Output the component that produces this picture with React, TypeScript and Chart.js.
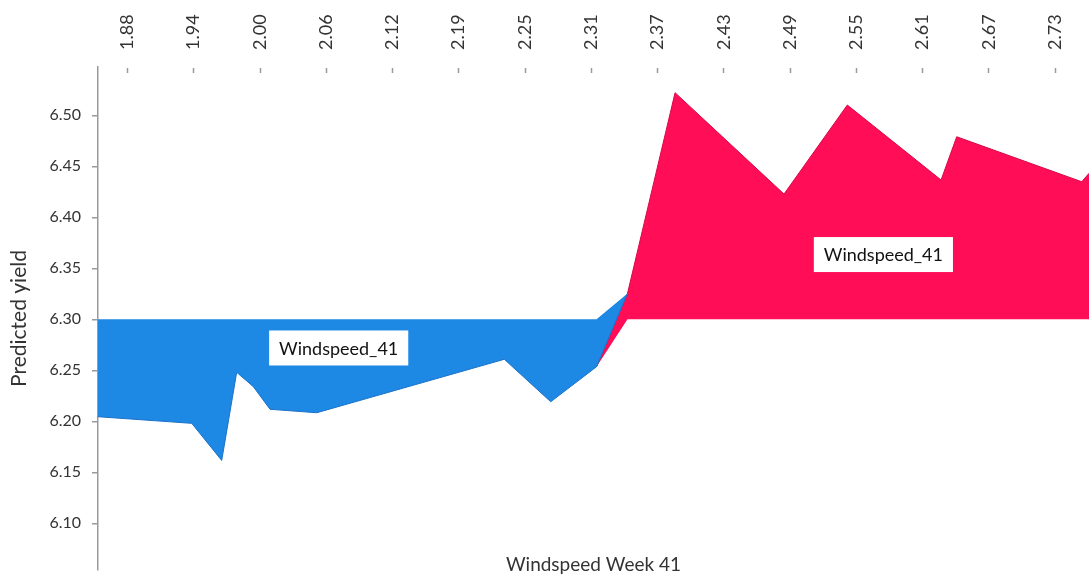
import { useEffect, useRef } from 'react';
import { Chart, registerables } from 'chart.js';

Chart.register(...registerables);

// ---- axis ticks ----
const xTickValues = [1.8805, 1.9415, 2.0025, 2.0635, 2.1245, 2.1855, 2.2465, 2.3075, 2.3685, 2.4295, 2.4905, 2.5515, 2.6125, 2.6735, 2.7345];
const xTickLabels = ['1.88', '1.94', '2.00', '2.06', '2.12', '2.19', '2.25', '2.31', '2.37', '2.43', '2.49', '2.55', '2.61', '2.67', '2.73'];
const yTickValues = [6.1, 6.15, 6.2, 6.25, 6.3, 6.35, 6.4, 6.45, 6.5];
const xRange = [1.8538, 2.7662];
const yRange = [6.0542, 6.5474];

// ---- effect below the base value (blue) ----
const belowWindspeed = [1.8538, 1.9401, 1.9677, 1.9815, 1.9968, 2.0122, 2.0552, 2.2279, 2.2706, 2.3128, 2.3413];
const belowPredicted = [6.2045, 6.198, 6.1616, 6.248, 6.234, 6.2118, 6.2084, 6.2608, 6.2192, 6.2535, 6.3253];
const belowBase = [6.3, 6.3, 6.3, 6.3, 6.3, 6.3, 6.3, 6.3, 6.3, 6.3, 6.3253];

// ---- effect above the base value (red) ----
const aboveWindspeed = [2.3128, 2.3413, 2.3851, 2.4854, 2.5437, 2.63, 2.6444, 2.7595, 2.7662];
const abovePredicted = [6.2535, 6.3253, 6.5222, 6.4228, 6.5101, 6.4366, 6.479, 6.4349, 6.4431];
const aboveBase = [6.2535, 6.3, 6.3, 6.3, 6.3, 6.3, 6.3, 6.3, 6.3];

// ---- feature labels ----
const labelText = ['Windspeed_41', 'Windspeed_41'];
const labelWindspeed = [2.0754, 2.5769];
const labelPredicted = [6.2719, 6.3635];

const BLUE = '#1E88E5';
const RED = '#FF0D57';
const AXIS_GRAY = '#9a9a9a';
const TEXT = '#333333';
const FONT = 'Lato';

const pts = (xs: number[], ys: number[]) => xs.map((x, i) => ({ x, y: ys[i] }));

const labelPlugin = {
  id: 'featureLabels',
  afterDatasetsDraw(chart: any) {
    const { ctx, scales } = chart;
    ctx.save();
    ctx.font = `18px ${FONT}`;
    ctx.textAlign = 'center';
    ctx.textBaseline = 'middle';
    labelText.forEach((t, i) => {
      const px = scales.x.getPixelForValue(labelWindspeed[i]);
      const py = scales.y.getPixelForValue(labelPredicted[i]);
      const w = ctx.measureText(t).width + 20;
      const h = 35;
      ctx.fillStyle = '#ffffff';
      ctx.fillRect(px - w / 2, py - h / 2, w, h);
      ctx.fillStyle = '#111111';
      ctx.fillText(t, px, py + 1);
    });
    ctx.restore();
  },
};

const innerTickPlugin = {
  id: 'innerTopTicks',
  afterDraw(chart: any) {
    const { ctx, chartArea, scales } = chart;
    const s = scales.x;
    ctx.save();
    ctx.strokeStyle = AXIS_GRAY;
    ctx.lineWidth = 1.5;
    s.ticks.forEach((t: any) => {
      const px = Math.round(s.getPixelForValue(t.value)) + 0.5;
      ctx.beginPath();
      ctx.moveTo(px, chartArea.top + 1);
      ctx.lineTo(px, chartArea.top + 6);
      ctx.stroke();
    });
    ctx.restore();
  },
};

export default function App() {
  const canvasRef = useRef<HTMLCanvasElement | null>(null);

  useEffect(() => {
    if (!canvasRef.current) return;
    Chart.defaults.font.family = FONT;
    const chart = new Chart(canvasRef.current, {
      type: 'line',
      data: {
        datasets: [
          {
            label: 'below',
            data: pts(belowWindspeed, belowPredicted),
            borderColor: '#1a72c8',
            borderWidth: 1,
            backgroundColor: BLUE,
            fill: '+1',
            pointRadius: 0,
            tension: 0,
          },
          {
            label: 'belowBase',
            data: pts(belowWindspeed, belowBase),
            borderColor: 'rgba(0,0,0,0)',
            borderWidth: 1,
            backgroundColor: BLUE,
            fill: false,
            pointRadius: 0,
            tension: 0,
          },
          {
            label: 'above',
            data: pts(aboveWindspeed, abovePredicted),
            borderColor: '#d40a48',
            borderWidth: 1,
            backgroundColor: RED,
            fill: '+1',
            pointRadius: 0,
            tension: 0,
          },
          {
            label: 'aboveBase',
            data: pts(aboveWindspeed, aboveBase),
            borderColor: 'rgba(0,0,0,0)',
            borderWidth: 1,
            backgroundColor: RED,
            fill: false,
            pointRadius: 0,
            tension: 0,
          },
        ],
      },
      options: {
        animation: false,
        responsive: true,
        maintainAspectRatio: false,
        layout: { padding: 0 },
        plugins: {
          legend: { display: false },
          tooltip: { enabled: false },
        },
        scales: {
          x: {
            type: 'linear',
            position: 'top',
            min: xRange[0],
            max: xRange[1],
            afterBuildTicks: (scale: any) => {
              scale.ticks = xTickValues.map((v) => ({ value: v }));
            },
            afterFit: (scale: any) => {
              scale.height = 67;
              scale.paddingLeft = 0;
              scale.paddingRight = 0;
            },
            grid: { display: false, drawTicks: false },
            border: { display: false },
            ticks: {
              autoSkip: false,
              minRotation: 90,
              maxRotation: 90,
              padding: 17,
              labelOffset: 22,
              color: TEXT,
              font: { size: 18, family: FONT },
              callback: (_v: any, i: number) => xTickLabels[i],
            },
          },
          x2: {
            type: 'linear',
            position: 'bottom',
            min: xRange[0],
            max: xRange[1],
            afterFit: (scale: any) => {
              scale.height = 7;
              scale.paddingLeft = 0;
              scale.paddingRight = 0;
            },
            grid: { display: false, drawTicks: false },
            border: { display: false },
            ticks: { display: false },
            title: {
              display: true,
              text: 'Windspeed Week 41',
              color: TEXT,
              font: { size: 19, family: FONT },
              padding: { top: 0, bottom: 1 },
            },
          },
          y: {
            type: 'linear',
            position: 'left',
            min: yRange[0],
            max: yRange[1],
            afterBuildTicks: (scale: any) => {
              scale.ticks = yTickValues.map((v) => ({ value: v }));
            },
            afterFit: (scale: any) => {
              scale.width = 98;
              scale.paddingTop = 0;
              scale.paddingBottom = 0;
            },
            grid: {
              display: true,
              drawOnChartArea: false,
              drawTicks: true,
              tickLength: 6,
              color: AXIS_GRAY,
              lineWidth: 1.5,
            },
            border: { display: true, color: AXIS_GRAY, width: 1.5 },
            ticks: {
              padding: 11,
              color: TEXT,
              font: { size: 16, family: FONT },
              callback: (v: any) => Number(v).toFixed(2),
            },
            title: {
              display: true,
              text: 'Predicted yield',
              color: TEXT,
              font: { size: 21, family: FONT },
              padding: { top: 7, bottom: 0 },
            },
          },
        },
      },
      plugins: [labelPlugin, innerTickPlugin],
    } as any);
    return () => chart.destroy();
  }, []);

  return (
    <div style={{ position: 'fixed', left: 0, top: 0, width: '100vw', height: '100vh', background: '#ffffff' }}>
      <canvas ref={canvasRef} />
    </div>
  );
}
